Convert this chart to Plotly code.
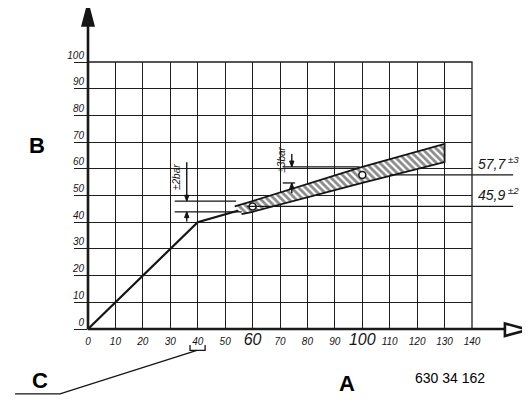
import plotly.graph_objects as go

# characteristic curve (input -> output), bar
curve_x = [0, 40, 60]
curve_y = [0, 40, 45.9]

# tolerance band
band_x_upper = [53.5, 60, 100, 130]
band_y_upper = [45.9, 47.9, 60.7, 69.3]
band_x_lower = [56, 60, 100, 130]
band_y_lower = [43.0, 43.9, 54.7, 62.5]

# nominal check points
nominal_x = [60, 100]
nominal_y = [45.9, 57.7]
nominal_tol = [2, 3]
nominal_text = ["45,9", "57,7"]

x_ticks = [0, 10, 20, 30, 40, 50, 60, 70, 80, 90, 100, 110, 120, 130, 140]
y_ticks = [0, 10, 20, 30, 40, 50, 60, 70, 80, 90, 100]
big_x_ticks = [60, 100]

X_MAX, Y_MAX = 140, 100
INK = "#151515"
GRID = "#1e1e1e"
FONT = "Liberation Sans"


def px(x):
    return x / X_MAX


def py(y):
    return y / Y_MAX


def line(x0, y0, x1, y1, w=1.3):
    return dict(type="line", xref="paper", yref="paper",
                x0=px(x0), y0=py(y0), x1=px(x1), y1=py(y1),
                line=dict(color=INK, width=w))


def path(points, w=1.5, fill=None):
    d = "M " + " L ".join(f"{px(a):.4f},{py(b):.4f}" for a, b in points)
    if fill:
        d += " Z"
    return dict(type="path", xref="paper", yref="paper", path=d,
                line=dict(color=INK, width=w), fillcolor=fill)


x_text = []
for t in x_ticks:
    if t in big_x_ticks:
        x_text.append(f"<i><span style='font-size:16px'>{t}</span></i>")
    else:
        x_text.append(f"<i>{t}</i>")

fig = go.Figure()

fig.add_trace(go.Scatter(x=curve_x, y=curve_y, mode="lines",
                         line=dict(color=INK, width=2.2), cliponaxis=False,
                         hoverinfo="skip"))

fig.add_trace(go.Scatter(
    x=band_x_upper + band_x_lower[::-1],
    y=band_y_upper + band_y_lower[::-1],
    mode="lines", fill="toself",
    line=dict(color=INK, width=1.8),
    fillpattern=dict(shape="\\", bgcolor="white", fgcolor=INK,
                     size=5, solidity=0.55),
    hoverinfo="skip"))

fig.add_trace(go.Scatter(x=nominal_x, y=nominal_y, mode="markers",
                         marker=dict(size=7, color="white",
                                     line=dict(color=INK, width=1.5)),
                         hoverinfo="skip"))

shapes = []
# axes with arrows
shapes.append(line(0, 0, 0, 113.5, 2.6))
shapes.append(path([(-2.2, 113.5), (2.2, 113.5), (0, 122)], 1.5, INK))
shapes.append(line(0, 0, 152, 0, 2.6))
shapes.append(path([(152, 2.1), (152, -2.6), (160.5, -0.3)], 2.6, "white"))

# +-2 bar dimension at first check point
shapes.append(line(31.6, nominal_y[0] + nominal_tol[0], 54, nominal_y[0] + nominal_tol[0]))
shapes.append(line(31.6, nominal_y[0] - nominal_tol[0], 56, nominal_y[0] - nominal_tol[0]))
# +-3 bar dimension at second check point
shapes.append(line(71, nominal_y[1] + nominal_tol[1], 99, nominal_y[1] + nominal_tol[1]))
shapes.append(line(71, nominal_y[1] - nominal_tol[1], 75.5, nominal_y[1] - nominal_tol[1]))

# leaders to the value labels
shapes.append(line(110, nominal_y[1], 155, nominal_y[1]))
shapes.append(line(58, nominal_y[0], 155, nominal_y[0]))

# leader from C to the 40 label
shapes.append(path([(-26.6, -24.3), (-10.2, -24.3), (39.7, -8.0)], 1.4))
shapes.append(path([(37.2, -6.0), (37.2, -8.0), (42.7, -8.0), (42.7, -6.0)], 1.3))


def arrow(x, tip, tail):
    # dimension arrow: shaft plus small filled head at the tip
    d = 2.2 if tail > tip else -2.2
    shapes.append(line(x, tail, x, tip, 1.4))
    shapes.append(path([(x - 0.8, tip + d), (x + 0.8, tip + d), (x, tip)], 1, INK))


arrow(36, nominal_y[0] + nominal_tol[0], 62.5)
arrow(36, nominal_y[0] - nominal_tol[0], 40.3)
arrow(74.3, nominal_y[1] + nominal_tol[1], 65.5)
arrow(74.3, nominal_y[1] - nominal_tol[1], 50.8)

annotations = []
annotations.append(dict(x=32.3, y=56.8, xref="x", yref="y", text="<i>±2bar</i>",
                        textangle=-90, showarrow=False,
                        font=dict(family=FONT, size=10, color=INK)))
annotations.append(dict(x=70.6, y=63.3, xref="x", yref="y", text="<i>±3bar</i>",
                        textangle=-90, showarrow=False,
                        font=dict(family=FONT, size=10, color=INK)))

for v, tol, txt in zip(nominal_y, nominal_tol, nominal_text):
    annotations.append(dict(
        x=px(149.5), y=py(v + 0.4), xref="paper", yref="paper",
        xanchor="center", yanchor="bottom", showarrow=False,
        text=f"<i>{txt}</i><i><sup> ±{tol}</sup></i>",
        font=dict(family=FONT, size=14, color=INK)))

for txt, x, y, size, bold in [("B", -18.6, 68.9, 22, True),
                              ("C", -17.5, -19.3, 22, True),
                              ("A", 94.6, -20.5, 22, True),
                              ("630 34 162", 132, -18.3, 14, False)]:
    annotations.append(dict(
        x=px(x), y=py(y), xref="paper", yref="paper", showarrow=False,
        xanchor="center", yanchor="middle",
        text=f"<b>{txt}</b>" if bold else txt,
        font=dict(family="Liberation Sans", size=size, color="black")))

# the page body adds an 8px offset, so the figure is shifted up/left by 8px
fig.update_layout(
    width=522, height=402,
    margin=dict(l=80, r=58, t=54, b=81),
    paper_bgcolor="white", plot_bgcolor="white",
    showlegend=False,
    shapes=shapes,
    annotations=annotations,
    xaxis=dict(range=[0, X_MAX], tickvals=x_ticks, ticktext=x_text,
               showgrid=True, gridcolor=GRID, gridwidth=1.3,
               zeroline=False, showline=False, ticks="",
               ticklabelstandoff=5,
               tickfont=dict(family=FONT, size=10, color=INK),
               fixedrange=True),
    yaxis=dict(range=[0, Y_MAX], tickvals=y_ticks,
               ticktext=[f"<i>{t}</i>" for t in y_ticks],
               showgrid=True, gridcolor=GRID, gridwidth=1.3,
               zeroline=False, showline=False,
               ticks="outside", ticklen=13, tickwidth=1.3, tickcolor=GRID,
               ticklabelshift=-7, ticklabelstandoff=-12,
               tickfont=dict(family=FONT, size=10, color=INK),
               fixedrange=True),
)

# grid border on right/top
fig.add_shape(type="rect", xref="paper", yref="paper", x0=0, y0=0, x1=1, y1=1,
              line=dict(color=GRID, width=1.3))

fig.write_html("out.html")
